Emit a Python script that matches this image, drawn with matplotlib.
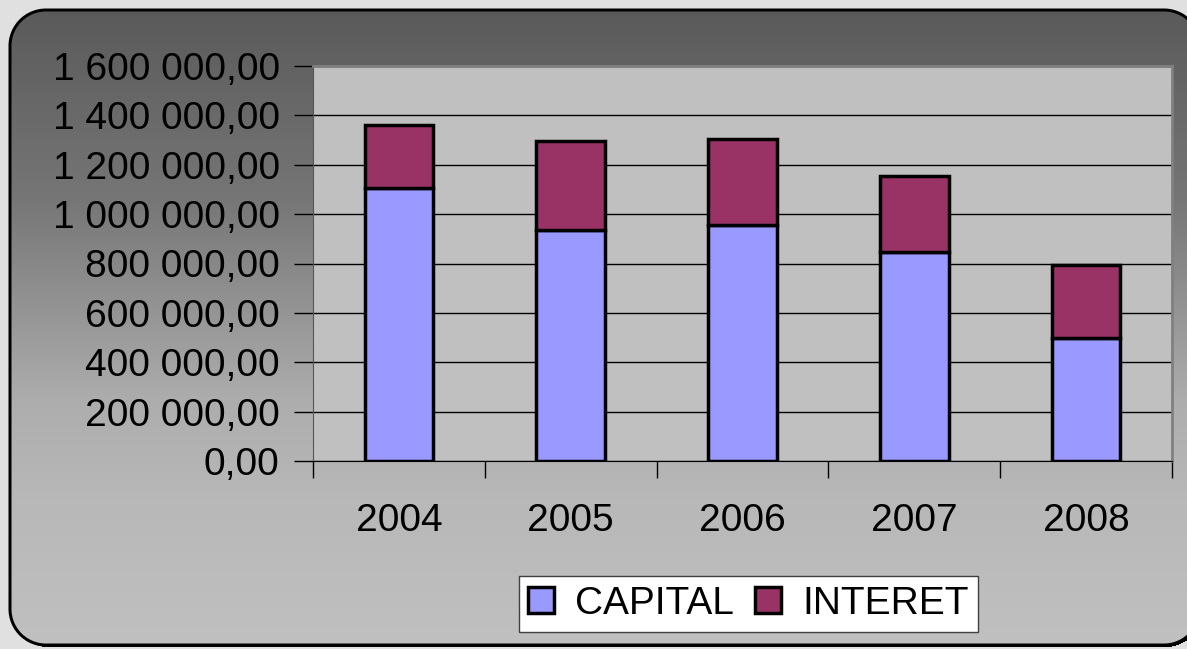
import numpy as np
import matplotlib
matplotlib.use("Agg")
import matplotlib.pyplot as plt
from matplotlib.ticker import FuncFormatter, FixedLocator

plt.rcParams['font.family'] = ['Liberation Sans', 'DejaVu Sans']

years = ['2004', '2005', '2006', '2007', '2008']
capital = [1105000, 935000, 955000, 845000, 497000]
interet = [255000, 360000, 350000, 310000, 298000]

W, H = 1187, 649
fig = plt.figure(figsize=(W / 100, H / 100), dpi=100)


def box_sdf(px, py, left, top, right, bottom, r):
    # signed distance to a rounded rectangle (pixel units)
    cx, cy = (left + right) / 2, (top + bottom) / 2
    hx, hy = (right - left) / 2 - r, (bottom - top) / 2 - r
    qx, qy = np.abs(px - cx) - hx, np.abs(py - cy) - hy
    out = np.hypot(np.maximum(qx, 0), np.maximum(qy, 0))
    return out + np.minimum(np.maximum(qx, qy), 0) - r


# background: rounded panel with vertical gray gradient, black border and shadow
py, px = np.mgrid[0:H, 0:W] + 0.5
shade = np.interp(py, [10, 200, 400, 500, 645], [0x5a, 0x76, 0xad, 0xb8, 0xc0]) / 255
img = np.full((H, W), 0xe0 / 255)
sd_sh = box_sdf(px, py, 12, 13, 1202, 647, 36)
img = np.where(sd_sh < 0, 0.0, img)
sd = box_sdf(px, py, 10, 10, 1200, 645, 36)
a_in = np.clip(0.5 - sd, 0, 1)
img = img * (1 - a_in) + shade * a_in
a_edge = np.clip(2.0 - np.abs(sd), 0, 1)
img = img * (1 - a_edge)
rgb = np.dstack([img, img, img])
fig.figimage(rgb, 0, 0, origin='upper', zorder=0)

ax = fig.add_axes([313 / W, 1 - 461 / H, (1172 - 313) / W, (461 - 66) / H])
ax.set_zorder(2)
ax.set_facecolor('#c0c0c0')
x = np.arange(len(years))
ax.bar(x, capital, width=0.4, color='#9999ff', edgecolor='black', linewidth=2.5,
       label='CAPITAL', zorder=3)
ax.bar(x, interet, width=0.4, bottom=capital, color='#993366', edgecolor='black',
       linewidth=2.5, label='INTERET', zorder=3)

ax.set_xlim(-0.5, len(years) - 0.5)
ax.set_ylim(0, 1600000)
ax.set_yticks(np.arange(0, 1600001, 200000))
ax.yaxis.set_major_formatter(FuncFormatter(
    lambda v, p: f"{v:,.2f}".replace(',', ' ').replace('.', ',')))
ax.grid(axis='y', color='black', linewidth=1, zorder=1)
ax.set_axisbelow(True)

ax.set_xticks(x)
ax.set_xticklabels(years)
ax.xaxis.set_minor_locator(FixedLocator(np.arange(-0.5, len(years), 1.0)))
ax.tick_params(axis='x', which='major', length=0, pad=30, labelsize=28)
ax.tick_params(axis='x', which='minor', length=12, width=1, color='black')
ax.tick_params(axis='y', length=14, width=1, pad=10, labelsize=28, color='black')

for s in ['top', 'right']:
    ax.spines[s].set_color('#808080')
    ax.spines[s].set_linewidth(2)
ax.spines['left'].set_color('#555555')
ax.spines['bottom'].set_color('black')

leg = fig.legend(loc='center', bbox_to_anchor=(748.5 / W, 1 - 604 / H), ncol=2,
                 fontsize=28, frameon=True, fancybox=False, edgecolor='#404040',
                 facecolor='white', framealpha=1, handlelength=0.65, handleheight=0.65,
                 handletextpad=0.55, columnspacing=0.55, borderpad=0.25, borderaxespad=0)
leg.get_frame().set_linewidth(1)
leg.set_zorder(3)

fig.savefig('out.png', dpi=100)
